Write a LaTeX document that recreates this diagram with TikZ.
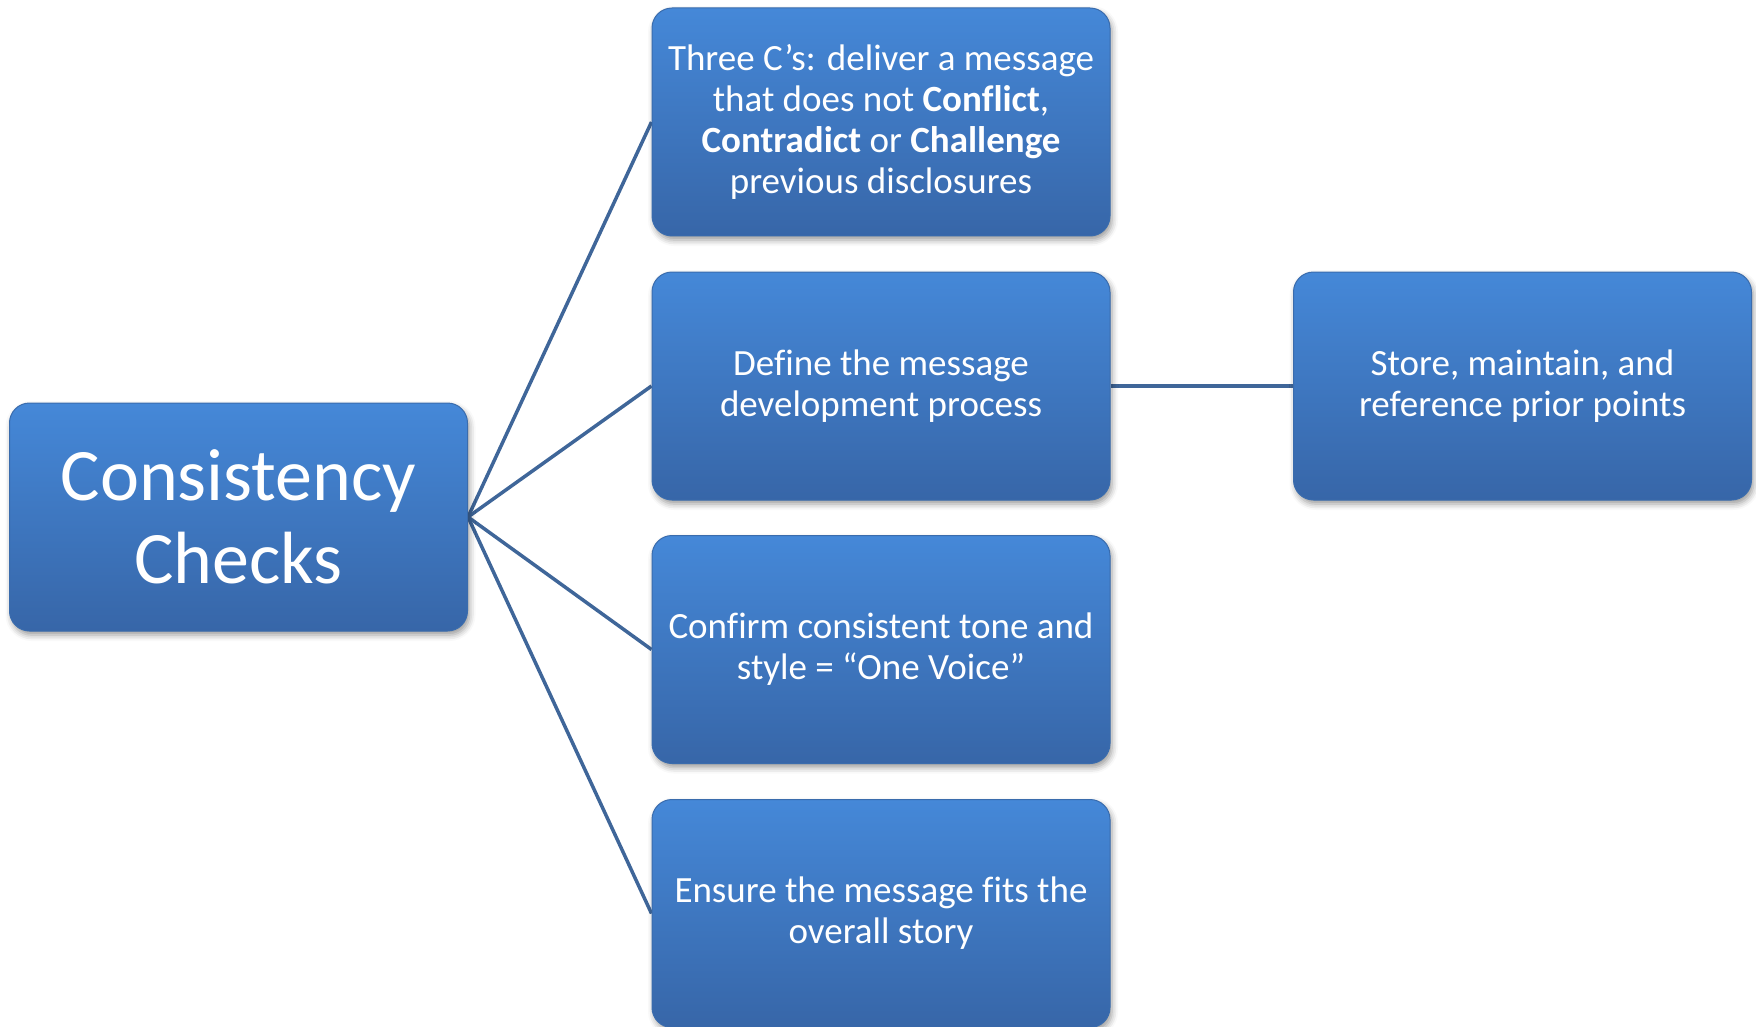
\documentclass[tikz,border=0pt]{standalone}
\usepackage{fontspec}
\setmainfont{Carlito}[Ligatures=NoCommon]
\usetikzlibrary{shadows.blur,backgrounds}
\definecolor{boxtop}{HTML}{4588D8}
\definecolor{boxbot}{HTML}{3766A8}
\definecolor{boxedge}{HTML}{3A6CAD}
\definecolor{linkcol}{HTML}{3F6699}
\begin{document}
\begin{tikzpicture}[x=1pt,y=-1pt,
  card/.style={rectangle, rounded corners=20pt, minimum width=458pt,
    minimum height=228pt, top color=boxtop, bottom color=boxbot,
    draw=boxedge, line width=1pt, text=white, align=center, inner sep=0pt,
    blur shadow={shadow xshift=2pt, shadow yshift=-4pt,
      shadow blur radius=6pt, shadow opacity=40},
    font=\fontsize{37}{41}\selectfont},
  link/.style={draw=linkcol, line width=3.5pt}]
\useasboundingbox (0,0) rectangle (1756,1027);

% root and its four branches
\node[card, font=\fontsize{74}{83}\selectfont] (root) at (238.5,517) {Consistency\\Checks};
\node[card] (c1) at (881,122) {Three C’s: deliver a message\\that does not \textbf{Conflict},\\\textbf{Contradict} or \textbf{Challenge}\\previous disclosures};
\node[card] (c2) at (881,386) {Define the message\\development process};
\node[card] (c3) at (881,649.5) {Confirm consistent tone and\\style = “One Voice”};
\node[card] (c4) at (881,913.5) {Ensure the message fits the\\overall story};
\node[card] (c5) at (1522.5,386) {Store, maintain, and\\reference prior points};

% connectors
\begin{scope}[on background layer]
  \draw[link] (root.east) -- (c1.west);
  \draw[link] (root.east) -- (c2.west);
  \draw[link] (root.east) -- (c3.west);
  \draw[link] (root.east) -- (c4.west);
  \draw[link] (c2.east) -- (c5.west);
\end{scope}
\end{tikzpicture}
\end{document}
